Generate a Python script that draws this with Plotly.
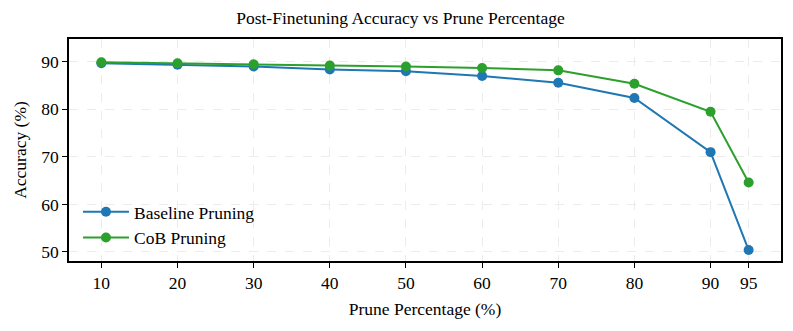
import plotly.graph_objects as go

prune_pct = [10, 20, 30, 40, 50, 60, 70, 80, 90, 95]
baseline_acc = [89.7, 89.4, 89.0, 88.4, 88.0, 87.0, 85.6, 82.4, 71.0, 50.4]
cob_acc = [89.9, 89.7, 89.5, 89.2, 89.0, 88.7, 88.2, 85.4, 79.5, 64.6]
x_ticks = [10, 20, 30, 40, 50, 60, 70, 80, 90, 95]

serif = "Liberation Serif"
fs = 17.5

fig = go.Figure()
fig.add_trace(go.Scatter(
    x=prune_pct, y=baseline_acc, mode="lines+markers", name="Baseline Pruning",
    line=dict(color="#1f77b4", width=2), marker=dict(size=10, color="#1f77b4"),
))
fig.add_trace(go.Scatter(
    x=prune_pct, y=cob_acc, mode="lines+markers", name="CoB Pruning",
    line=dict(color="#2ca02c", width=2), marker=dict(size=10, color="#2ca02c"),
))

axis_style = dict(
    showline=True, linecolor="black", linewidth=1.5, mirror=True,
    ticks="outside", ticklen=5, tickcolor="black",
    showgrid=True, gridcolor="#ececec", griddash="dash", gridwidth=1,
    zeroline=False, automargin=False,
    tickfont=dict(family=serif, size=fs, color="black"),
)

# page body has an 8px default margin, so the figure is sized to fit inside the window
fig.update_layout(
    width=785, height=323,
    margin=dict(l=61, r=12, t=31, b=70),
    paper_bgcolor="white", plot_bgcolor="white",
    font=dict(family=serif, color="black"),
    title=dict(text="Post-Finetuning Accuracy vs Prune Percentage", x=0.5, xanchor="center",
               y=0.969, yanchor="middle", font=dict(family=serif, size=fs)),
    xaxis=dict(axis_style, range=[5.75, 99.25], tickvals=x_ticks,
               title=dict(text="Prune Percentage (%)", font=dict(family=serif, size=fs), standoff=11)),
    yaxis=dict(axis_style, range=[48.1, 94.8], tickvals=[50, 60, 70, 80, 90],
               title=dict(text="Accuracy (%)", font=dict(family=serif, size=fs), standoff=10)),
    legend=dict(x=0.0126, y=0.302, xanchor="left", yanchor="top", bgcolor="rgba(255,255,255,0)",
                font=dict(family=serif, size=fs), itemwidth=46),
    showlegend=True,
)

fig.write_html("out.html")
